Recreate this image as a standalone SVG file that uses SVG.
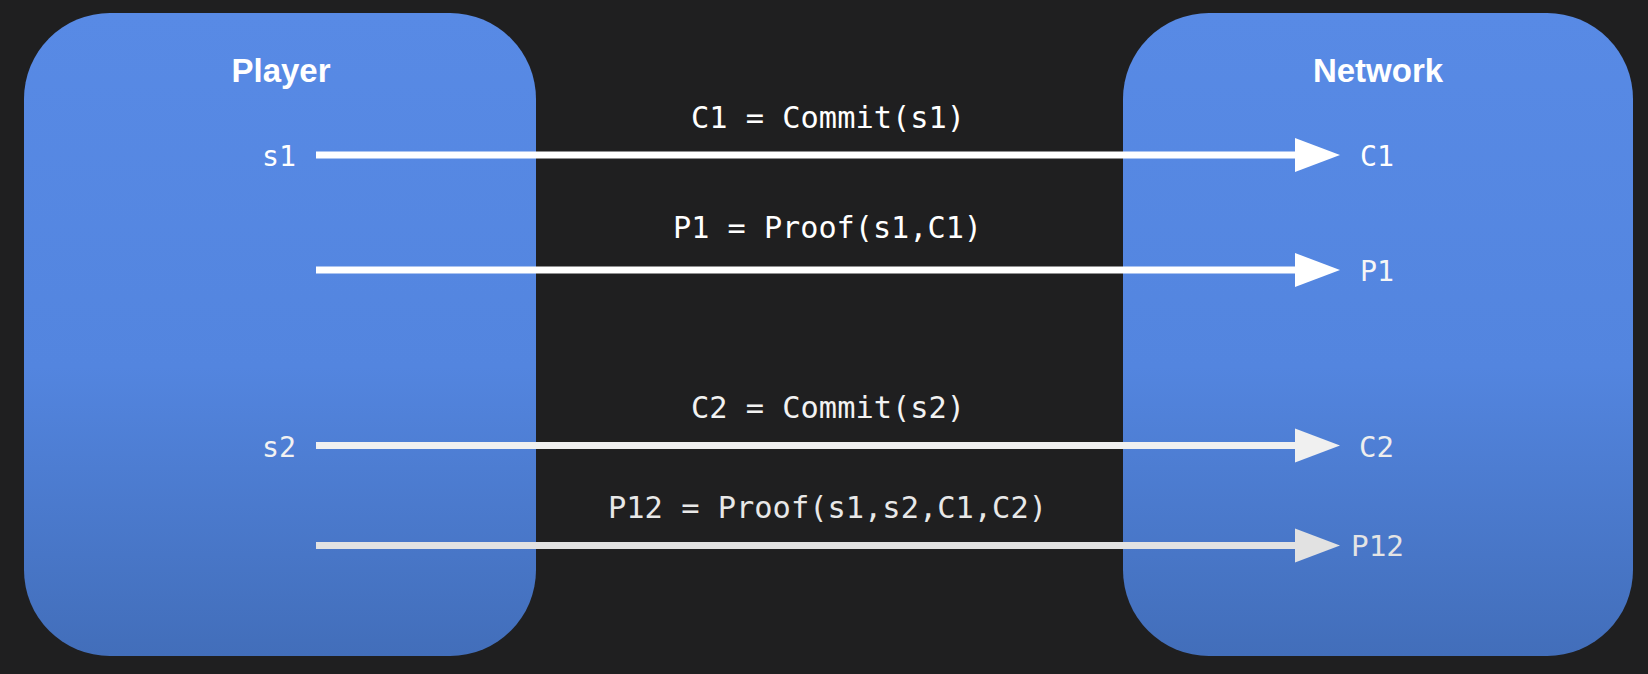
<svg xmlns="http://www.w3.org/2000/svg" width="1648" height="674" viewBox="0 0 1648 674">
  <defs>
    <linearGradient id="boxGrad" x1="0" y1="0" x2="0" y2="1">
      <stop offset="0" stop-color="#588AE5"/>
      <stop offset="0.55" stop-color="#5385DF"/>
      <stop offset="1" stop-color="#426EBA"/>
    </linearGradient>
    <marker id="arrW" markerUnits="userSpaceOnUse" markerWidth="46" markerHeight="36" refX="0" refY="17" orient="auto" overflow="visible">
      <path d="M0,0 L45,17 L0,34 Z" fill="#ffffff"/>
    </marker>
    <marker id="arrL" markerUnits="userSpaceOnUse" markerWidth="46" markerHeight="36" refX="0" refY="17" orient="auto" overflow="visible">
      <path d="M0,0 L45,17 L0,34 Z" fill="#f0f0f0"/>
    </marker>
    <marker id="arrG" markerUnits="userSpaceOnUse" markerWidth="46" markerHeight="36" refX="0" refY="17" orient="auto" overflow="visible">
      <path d="M0,0 L45,17 L0,34 Z" fill="#e2e2e2"/>
    </marker>
    <style>
      .box { fill: url(#boxGrad); }
      .title { font-family: "Liberation Sans", Arial, sans-serif; font-weight: bold; font-size: 33px; fill: #ffffff; text-anchor: middle; }
      .code { font-family: "DejaVu Sans Mono", "Liberation Mono", monospace; font-size: 30px; fill: #ffffff; }
      .lbl { font-family: "DejaVu Sans Mono", "Liberation Mono", monospace; font-size: 28px; fill: #ffffff; }
      .conn { stroke-width: 7; fill: none; }
    </style>
  </defs>
  <rect x="0" y="0" width="1648" height="674" fill="#1f1f20"/>

  <g id="player">
    <rect class="box" x="24" y="13" width="512" height="643" rx="86" ry="86"/>
    <text class="title" x="281" y="82">Player</text>
    <text class="lbl" x="262" y="166" textLength="34" lengthAdjust="spacingAndGlyphs">s1</text>
    <text class="lbl" x="262" y="457" textLength="34" lengthAdjust="spacingAndGlyphs" fill="#f2f2f2" style="fill:#f2f2f2">s2</text>
  </g>

  <g id="network">
    <rect class="box" x="1123" y="13" width="510" height="643" rx="86" ry="86"/>
    <text class="title" x="1378" y="82">Network</text>
    <text class="lbl" x="1360" y="166" textLength="34" lengthAdjust="spacingAndGlyphs">C1</text>
    <text class="lbl" x="1360" y="281" textLength="34" lengthAdjust="spacingAndGlyphs" style="fill:#f6f6f6">P1</text>
    <text class="lbl" x="1359" y="457" textLength="35" lengthAdjust="spacingAndGlyphs" style="fill:#eeeeee">C2</text>
    <text class="lbl" x="1351" y="556" textLength="53" lengthAdjust="spacingAndGlyphs" style="fill:#e4e4e4">P12</text>
  </g>

  <g id="connectors">
    <line class="conn" x1="316" y1="155" x2="1295" y2="155" stroke="#ffffff" marker-end="url(#arrW)"/>
    <line class="conn" x1="316" y1="270" x2="1295" y2="270" stroke="#ffffff" marker-end="url(#arrW)"/>
    <line class="conn" x1="316" y1="445.5" x2="1295" y2="445.5" stroke="#f0f0f0" marker-end="url(#arrL)"/>
    <line class="conn" x1="316" y1="545.5" x2="1295" y2="545.5" stroke="#e2e2e2" marker-end="url(#arrG)"/>
    <text class="code" x="691" y="128" textLength="274" lengthAdjust="spacingAndGlyphs">C1 = Commit(s1)</text>
    <text class="code" x="673" y="238" textLength="309" lengthAdjust="spacingAndGlyphs">P1 = Proof(s1,C1)</text>
    <text class="code" x="691" y="418" textLength="274" lengthAdjust="spacingAndGlyphs" style="fill:#f2f2f2">C2 = Commit(s2)</text>
    <text class="code" x="608" y="518" textLength="439" lengthAdjust="spacingAndGlyphs" style="fill:#e8e8e8">P12 = Proof(s1,s2,C1,C2)</text>
  </g>
</svg>
